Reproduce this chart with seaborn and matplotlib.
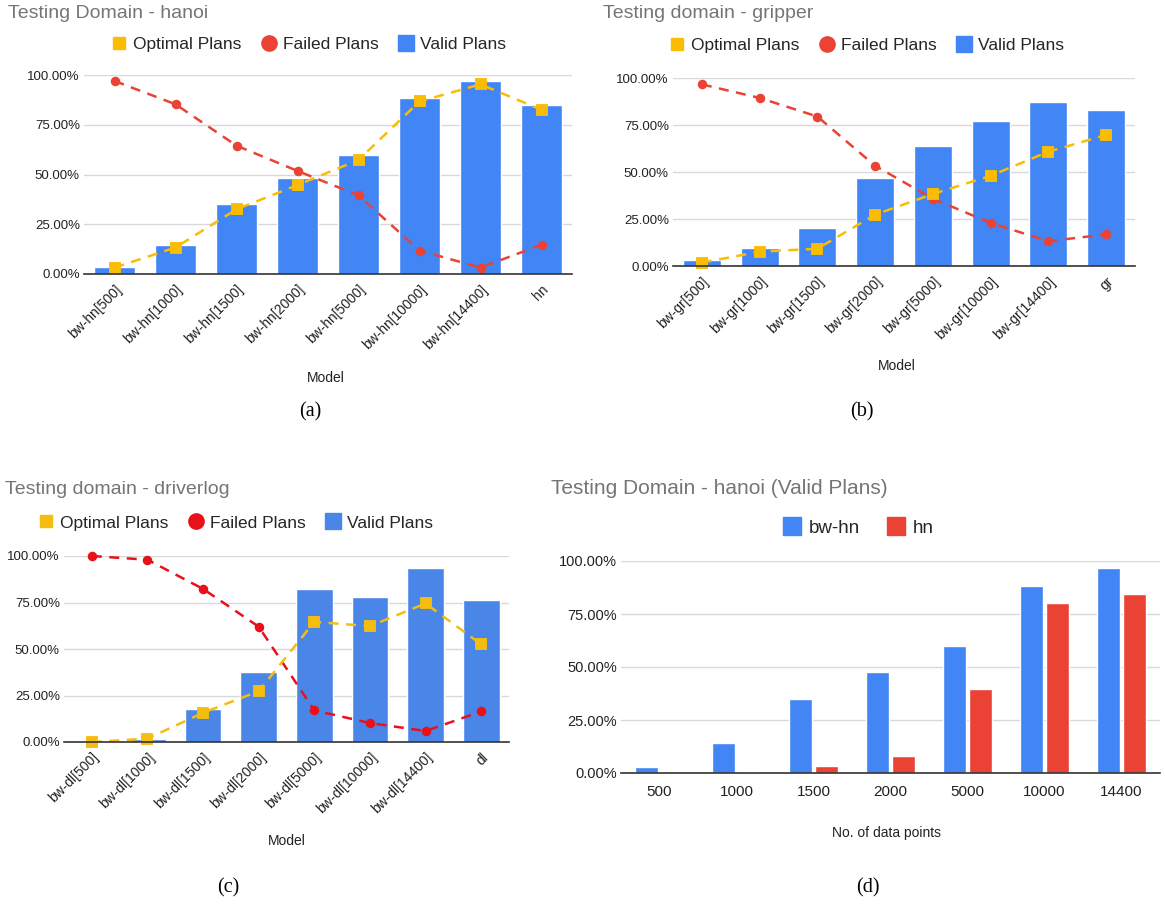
import matplotlib
matplotlib.use("Agg")
import matplotlib.pyplot as plt
import seaborn as sns
import pandas as pd
from matplotlib.lines import Line2D
from matplotlib.ticker import PercentFormatter

# valores (en %)
hanoi_models = ['bw-hn[500]', 'bw-hn[1000]', 'bw-hn[1500]', 'bw-hn[2000]',
                'bw-hn[5000]', 'bw-hn[10000]', 'bw-hn[14400]', 'hn']
hanoi_valid = [3.3, 14.7, 35.3, 48.0, 60.0, 88.2, 96.8, 84.7]
hanoi_optimal = [3.2, 13.3, 32.5, 44.7, 57.3, 86.7, 95.3, 82.5]
hanoi_failed = [97.0, 85.3, 64.5, 51.8, 39.5, 11.8, 3.2, 14.7]

gripper_models = ['bw-gr[500]', 'bw-gr[1000]', 'bw-gr[1500]', 'bw-gr[2000]',
                  'bw-gr[5000]', 'bw-gr[10000]', 'bw-gr[14400]', 'gr']
gripper_valid = [3.2, 9.7, 20.3, 46.6, 63.8, 76.9, 87.0, 82.9]
gripper_optimal = [1.8, 7.6, 9.2, 27.3, 38.3, 48.0, 60.8, 69.7]
gripper_failed = [96.6, 89.4, 79.5, 53.3, 35.8, 22.9, 13.2, 16.8]

driverlog_models = ['bw-dl[500]', 'bw-dl[1000]', 'bw-dl[1500]', 'bw-dl[2000]',
                    'bw-dl[5000]', 'bw-dl[10000]', 'bw-dl[14400]', 'dl']
driverlog_valid = [0.0, 1.4, 17.5, 37.7, 82.3, 78.0, 93.6, 76.4]
driverlog_optimal = [0.0, 1.8, 15.7, 27.3, 64.6, 62.3, 74.5, 52.5]
driverlog_failed = [100.0, 98.0, 82.3, 62.0, 17.0, 10.2, 5.9, 16.4]

data_points = ['500', '1000', '1500', '2000', '5000', '10000', '14400']
valid_bw_hn = [2.8, 14.3, 35.0, 47.8, 60.0, 88.0, 96.6]
valid_hn = [0.0, 0.3, 3.2, 8.2, 39.8, 80.0, 84.5]

sns.set_theme(style="white")
plt.rcParams['font.family'] = ['Liberation Sans', 'DejaVu Sans']

W, H = 1165, 910
fig = plt.figure(figsize=(W / 100, H / 100), dpi=100)
fig.patch.set_facecolor('white')


def px_axes(l, t, r, b):
    return fig.add_axes([l / W, 1 - b / H, (r - l) / W, (b - t) / H])


def ftext(x, y, s, **kw):
    fig.text(x / W, 1 - y / H, s, **kw)


def style_axes(ax, tick_size=9.5):
    ax.set_ylim(0, 100)
    ax.yaxis.set_major_formatter(PercentFormatter(xmax=100, decimals=2))
    ax.set_yticks([0, 25, 50, 75, 100])
    ax.grid(axis='y', color='#d9d9d9', linewidth=1)
    ax.set_axisbelow(True)
    for s in ['top', 'right', 'left']:
        ax.spines[s].set_visible(False)
    ax.spines['bottom'].set_color('#333333')
    ax.spines['bottom'].set_linewidth(1.2)
    ax.tick_params(axis='both', length=0, labelsize=tick_size, colors='#222222')
    ax.tick_params(axis='y', pad=3)
    ax.set_xlabel('')
    ax.set_ylabel('')


def combo_panel(box, models, valid, optimal, failed, title, title_xy,
                legend_xy, xlabel_xy, case, case_xy,
                c_bar, c_fail, c_opt):
    ax = px_axes(*box)
    sns.barplot(x=models, y=valid, color=c_bar, width=0.66, ax=ax,
                saturation=1, zorder=2)
    sns.pointplot(x=models, y=failed, color=c_fail, ax=ax, marker='o',
                  markersize=5.5, linestyle=(0, (4, 3)), linewidth=1.8,
                  errorbar=None)
    sns.pointplot(x=models, y=optimal, color=c_opt, ax=ax, marker='s',
                  markersize=7, linestyle=(0, (4, 3)), linewidth=1.8,
                  errorbar=None)
    for art in ax.lines + ax.collections:
        art.set_clip_on(False)
    style_axes(ax)
    ax.set_xticks(range(len(models)))
    ax.set_xticklabels(models, rotation=45, ha='right', rotation_mode='anchor',
                       fontsize=10)
    ax.tick_params(axis='x', pad=6)
    ax.set_xlim(-0.5, len(models) - 0.5)

    ftext(*title_xy, title, fontsize=14, color='#757575', va='center')
    handles = [Line2D([], [], marker='s', color=c_opt, linestyle='', markersize=8),
               Line2D([], [], marker='o', color=c_fail, linestyle='', markersize=11),
               Line2D([], [], marker='s', color=c_bar, linestyle='', markersize=11)]
    fig.legend(handles, ['Optimal Plans', 'Failed Plans', 'Valid Plans'],
               loc='center', bbox_to_anchor=(legend_xy[0] / W, 1 - legend_xy[1] / H),
               ncol=3, frameon=False, fontsize=12.5, handletextpad=0.3,
               columnspacing=1.1, handlelength=1.0)
    ftext(*xlabel_xy, 'Model', fontsize=10, ha='center', va='center', color='#222222')
    ftext(*case_xy, case, fontsize=14.5, ha='center', va='center',
          family=['Liberation Serif', 'DejaVu Serif'], color='black')
    return ax


combo_panel((84, 75, 572, 274), hanoi_models, hanoi_valid, hanoi_optimal,
            hanoi_failed, 'Testing Domain - hanoi', (8, 14), (308, 44),
            (326, 378), '(a)', (310, 412), '#4285f4', '#ea4335', '#fbbc04')

combo_panel((673, 78, 1135, 266), gripper_models, gripper_valid, gripper_optimal,
            gripper_failed, 'Testing domain - gripper', (603, 14), (866, 45),
            (897, 366), '(b)', (862, 412), '#4285f4', '#ea4335', '#fbbc04')

combo_panel((64, 556, 509, 742), driverlog_models, driverlog_valid,
            driverlog_optimal, driverlog_failed, 'Testing domain - driverlog',
            (5, 489), (235, 523), (287, 841), '(c)', (228, 888),
            '#4a86e8', '#e8111a', '#f5bd0f')

# panel (d): barras agrupadas
df_d = pd.DataFrame({
    'points': data_points * 2,
    'valid': valid_bw_hn + valid_hn,
    'model': ['bw-hn'] * len(data_points) + ['hn'] * len(data_points),
})
ax_d = px_axes(621, 561, 1160, 773)
sns.barplot(data=df_d, x='points', y='valid', hue='model', ax=ax_d,
            palette={'bw-hn': '#4285f4', 'hn': '#ea4335'}, width=0.68, gap=0.12,
            saturation=1, legend=False, zorder=2)
style_axes(ax_d, tick_size=10.5)
ax_d.tick_params(axis='x', pad=9, labelsize=11)
ax_d.set_xlim(-0.5, len(data_points) - 0.5)
ftext(551, 488, 'Testing Domain - hanoi (Valid Plans)', fontsize=15,
      color='#757575', va='center')
handles_d = [Line2D([], [], marker='s', color='#4285f4', linestyle='', markersize=13),
             Line2D([], [], marker='s', color='#ea4335', linestyle='', markersize=13)]
fig.legend(handles_d, ['bw-hn', 'hn'], loc='center',
           bbox_to_anchor=(858 / W, 1 - 528 / H), ncol=2, frameon=False,
           fontsize=13.5, handletextpad=0.4, columnspacing=1.4, handlelength=1.0)
ftext(886, 833, 'No. of data points', fontsize=10, ha='center', va='center',
      color='#222222')
ftext(868, 888, '(d)', fontsize=14.5, ha='center', va='center',
      family=['Liberation Serif', 'DejaVu Serif'], color='black')

fig.savefig('out.png', dpi=100, facecolor='white')
